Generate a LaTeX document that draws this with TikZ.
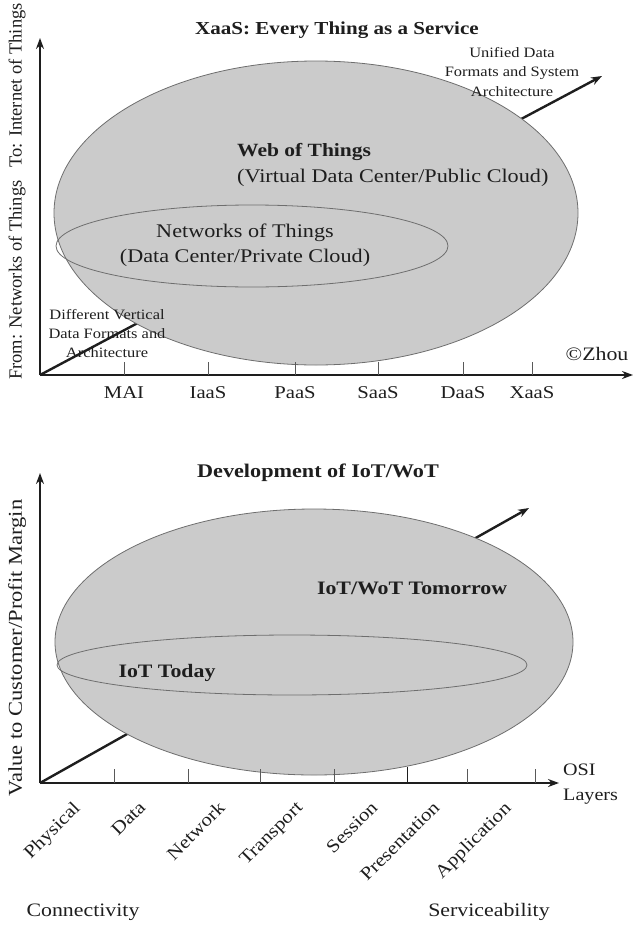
\documentclass[tikz,border=0pt]{standalone}
\usepackage{fontspec}
\setmainfont{Liberation Serif}[FakeStretch=1.15]
\newfontfamily\plainserif{Liberation Serif}
\usetikzlibrary{arrows.meta,shapes.geometric}
\definecolor{blobfill}{HTML}{CBCBCB}
\definecolor{blobline}{HTML}{6E6E6E}
\definecolor{ink}{HTML}{1E1E1E}
\begin{document}
\begin{tikzpicture}[x=1pt,y=-1pt,
  axisline/.style={draw=ink,line width=2.6pt,-{Stealth[length=11pt,width=8pt]}},
  diagline/.style={draw=ink,line width=2.4pt,-{Stealth[length=11pt,width=8pt]}},
  blob/.style={ellipse,fill=blobfill,draw=blobline,line width=0.8pt,inner sep=0pt},
  ring/.style={ellipse,draw=blobline,line width=0.8pt,inner sep=0pt},
  tickmark/.style={draw=black!65,line width=0.9pt},
  every node/.append style={inner sep=0pt,text=ink}]
\useasboundingbox (0,0) rectangle (633,926);
% ---------------- top diagram ----------------
\coordinate (o1) at (40,375);
\coordinate (y1) at (40,38);
\coordinate (x1) at (633,375);
\coordinate (d1) at (602,76);
\draw[diagline] (o1) -- (d1);
\node[blob,minimum width=524pt,minimum height=304pt] (web) at (316,213) {};
\node[ring,minimum width=392pt,minimum height=82pt] (net) at (252,246) {};
\draw[axisline] (o1) -- (y1);
\draw[axisline] (o1) -- (x1);
\foreach \n/\x in {mai/124,iaas/208,paas/295,saas/378,daas/463,xaas/532}{
  \coordinate (t\n) at (\x,375);
  \draw[tickmark] (t\n) -- ++(0,-13);
}
\begin{scope}[every node/.append style={font=\fontsize{18}{22}\selectfont}]
\node (lmai) at (124,393) {MAI};
\node (liaas) at (208,393) {IaaS};
\node (lpaas) at (295,393) {PaaS};
\node (lsaas) at (378,393) {SaaS};
\node (ldaas) at (463,393) {DaaS};
\node (lxaas) at (532,393) {XaaS};
\end{scope}
\node[font=\fontsize{18.3}{22}\selectfont\bfseries] (title1) at (337,30) {XaaS: Every Thing as a Service};
\node[font=\fontsize{14.3}{19.5}\selectfont,align=center] (unified) at (512,72) {Unified Data\\Formats and System\\Architecture};
\node[font=\fontsize{14.3}{19}\selectfont,align=center] (different) at (107,334) {Different Vertical\\Data Formats and\\Architecture};
\node[font=\fontsize{18.7}{22}\selectfont\bfseries,anchor=west] (wot) at (237,152) {Web of Things};
\node[font=\fontsize{19.3}{22}\selectfont,anchor=west] (wotsub) at (237,178) {(Virtual Data Center/Public Cloud)};
\node[font=\fontsize{19.3}{25}\selectfont,align=center] (not) at (245,245) {Networks of Things\\(Data Center/Private Cloud)};
\node[font=\fontsize{19}{22}\selectfont] (zhou) at (597,354) {©Zhou};
\node[font=\plainserif\fontsize{18.5}{22}\selectfont,rotate=90,anchor=west] (from) at (17,380) {From: Networks of Things};
\node[font=\plainserif\fontsize{18.5}{22}\selectfont,rotate=90,anchor=east] (to) at (17,3) {To: Internet of Things};
% ---------------- bottom diagram ----------------
\coordinate (o2) at (40,783);
\coordinate (y2) at (40,473);
\coordinate (x2) at (559,783);
\coordinate (d2) at (529,508);
\draw[diagline] (o2) -- (d2);
\node[blob,minimum width=518pt,minimum height=266pt] (tomorrow) at (314,642) {};
\node[ring,minimum width=470pt,minimum height=60pt] (today) at (292,665) {};
\draw[axisline] (o2) -- (y2);
\draw[axisline] (o2) -- (x2);
\foreach \n/\x in {a/114,b/188,c/260,d/334,f/467,g/535}{
  \coordinate (u\n) at (\x,783);
  \draw[tickmark] (u\n) -- ++(0,-14);
}
\coordinate (ue) at (407,783);
\draw[tickmark,draw=ink] (ue) -- ++(0,-16);
\node[font=\fontsize{19.3}{22}\selectfont\bfseries] (title2) at (318,473) {Development of IoT/WoT};
\node[font=\fontsize{19}{22}\selectfont\bfseries] (iotw) at (412,588) {IoT/WoT Tomorrow};
\node[font=\fontsize{19}{22}\selectfont\bfseries] (iott) at (167,673) {IoT Today};
\foreach \n/\t/\x in {phy/Physical/72,dat/Data/138,netw/Network/217,tra/Transport/295,ses/Session/370,pre/Presentation/432,app/Application/503}{
  \node[font=\fontsize{18.2}{22}\selectfont,rotate=45,anchor=north east] (l\n) at (\x,800) {\t};
}
\node[font=\fontsize{17.5}{25}\selectfont,align=left,anchor=west] (osi) at (563,784) {OSI\\Layers};
\node[font=\fontsize{19}{22}\selectfont] (conn) at (83,912) {Connectivity};
\node[font=\fontsize{19}{22}\selectfont] (serv) at (489,912) {Serviceability};
\node[font=\fontsize{19.6}{24}\selectfont,rotate=90] (value) at (17,648) {Value to Customer/Profit Margin};
\end{tikzpicture}
\end{document}
